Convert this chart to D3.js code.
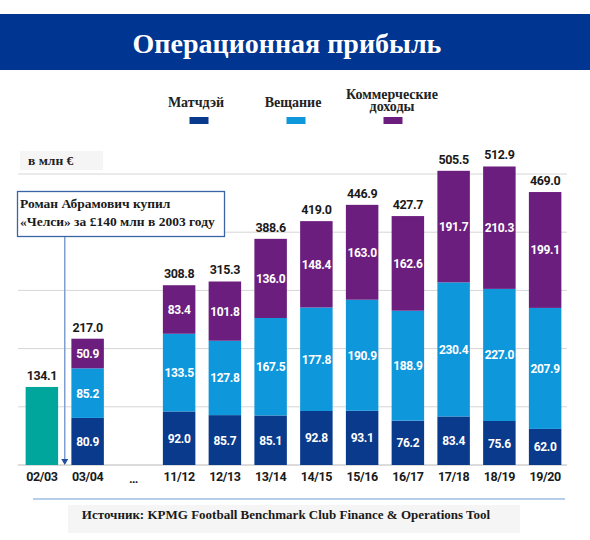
<!DOCTYPE html>
<html><head><meta charset="utf-8">
<script src="https://cdn.jsdelivr.net/npm/d3@7/dist/d3.min.js"></script>
<style>body{margin:0;background:#fff}svg{display:block}</style>
</head><body>
<script>
const categories = ["02/03","03/04","…","11/12","12/13","13/14","14/15","15/16","16/17","17/18","18/19","19/20"];
const stackCats = ["03/04","11/12","12/13","13/14","14/15","15/16","16/17","17/18","18/19","19/20"];
const matchday   = [80.9, 92.0, 85.7, 85.1, 92.8, 93.1, 76.2, 83.4, 75.6, 62.0];
const broadcast  = [85.2, 133.5, 127.8, 167.5, 177.8, 190.9, 188.9, 230.4, 227.0, 207.9];
const commercial = [50.9, 83.4, 101.8, 136.0, 148.4, 163.0, 162.6, 191.7, 210.3, 199.1];
const totals     = [217.0, 308.8, 315.3, 388.6, 419.0, 446.9, 427.7, 505.5, 512.9, 469.0];
const firstCat = "02/03", firstValue = 134.1;
const seriesNames = ["Матчдэй","Вещание","Коммерческие доходы"];
const yTicks = [0,100,200,300,400,500];

const W=590,H=540;
const svg=d3.select("body").append("svg").attr("width",W).attr("height",H);
const serif="'Liberation Serif','DejaVu Serif',serif";
const sans="Roboto,'Liberation Sans',sans-serif";
const colors={m:"#0a3a8c",b:"#0f97dc",c:"#6b1e7d",t:"#00a59b"};

// title band
svg.append("rect").attr("x",0).attr("y",14).attr("width",W).attr("height",56).attr("fill","#003591");
svg.append("text").attr("x",287).attr("y",53).attr("text-anchor","middle").attr("fill","#fff")
  .attr("font-family",serif).attr("font-weight","bold").attr("font-size",28).text("Операционная прибыль");

const x=d3.scaleBand().domain(categories).range([19,568]).paddingInner(0.29).paddingOuter(0.145);
const y=d3.scaleLinear().domain([0,500]).range([465,174]);

// gridlines
svg.append("g").selectAll("line").data(yTicks).join("line")
  .attr("x1",18).attr("x2",567).attr("y1",d=>y(d)).attr("y2",d=>y(d))
  .attr("stroke",d=>d===0?"#b8b8b8":"#d6d6d6").attr("stroke-width",1);

// unit label
svg.append("rect").attr("x",20).attr("y",151).attr("width",83).attr("height",19).attr("fill","#f5f5f5");
svg.append("text").attr("x",28).attr("y",165).attr("font-family",serif).attr("font-weight","bold")
  .attr("font-size",13.5).attr("fill","#222").text("в млн €");

// legend
const legX=[199,296,393], legC=[colors.m,colors.b,colors.c];
seriesNames.forEach((n,i)=>{
  const g=svg.append("g");
  g.append("rect").attr("x",legX[i]-9.5).attr("y",117).attr("width",19).attr("height",7).attr("fill",legC[i]);
  const words=n.split(" ");
  const t=g.append("text").attr("text-anchor","middle").attr("font-family",serif).attr("font-weight","bold")
    .attr("font-size",14).attr("fill","#222");
  if(words.length===1){ t.append("tspan").attr("x",legX[i]-3).attr("y",107).text(n); }
  else { t.append("tspan").attr("x",legX[i]-1).attr("y",99).text(words[0]);
         t.append("tspan").attr("x",legX[i]-1).attr("y",111).text(words[1]); }
});

// first bar
svg.append("rect").attr("x",x(firstCat)).attr("width",x.bandwidth()).attr("y",y(firstValue))
  .attr("height",y(0)-y(firstValue)).attr("fill",colors.t);
svg.append("text").attr("x",x(firstCat)+x.bandwidth()/2).attr("y",y(firstValue)-7).attr("text-anchor","middle")
  .attr("font-family",sans).attr("font-weight","bold").attr("font-size",12.5).attr("letter-spacing","-0.4")
  .attr("fill","#1a1a1a").text(firstValue.toFixed(1));

// stacked bars
const rows=stackCats.map((c,i)=>({cat:c,m:matchday[i],b:broadcast[i],c:commercial[i],total:totals[i]}));
const stack=d3.stack().keys(["m","b","c"])(rows);
const gS=svg.append("g");
stack.forEach(layer=>{
  const key=layer.key;
  const g=gS.append("g");
  g.selectAll("rect").data(layer).join("rect")
    .attr("x",d=>x(d.data.cat)).attr("width",x.bandwidth())
    .attr("y",d=>y(d[1])).attr("height",d=>y(d[0])-y(d[1])).attr("fill",colors[key]);
  g.selectAll("text").data(layer).join("text")
    .attr("x",d=>x(d.data.cat)+x.bandwidth()/2).attr("y",d=>(y(d[0])+y(d[1]))/2+4.5)
    .attr("text-anchor","middle").attr("font-family",sans).attr("font-weight","bold")
    .attr("font-size",12).attr("letter-spacing","-0.4").attr("fill","#fff")
    .text(d=>d.data[key].toFixed(1));
});
gS.append("g").selectAll("text").data(stack[2]).join("text")
  .attr("x",d=>x(d.data.cat)+x.bandwidth()/2).attr("y",d=>y(d[1])-7)
  .attr("text-anchor","middle").attr("font-family",sans).attr("font-weight","bold")
  .attr("font-size",12.5).attr("letter-spacing","-0.4").attr("fill","#1a1a1a")
  .text(d=>d.data.total.toFixed(1));

// x axis labels
svg.append("g").selectAll("text").data(categories).join("text")
  .attr("x",d=>x(d)+x.bandwidth()/2).attr("y",d=>d==="…"?483:481).attr("text-anchor","middle")
  .attr("font-family",sans).attr("font-weight","bold").attr("font-size",12.5).attr("letter-spacing","-0.4")
  .attr("fill","#1a1a1a").text(d=>d);

// annotation arrow
const ax=(x(firstCat)+x.bandwidth()+x("03/04"))/2;
svg.append("line").attr("x1",ax).attr("x2",ax).attr("y1",237).attr("y2",459)
  .attr("stroke","#7f9fd0").attr("stroke-width",1.5);
svg.append("path").attr("d",`M${ax-3.5},459 L${ax+3.5},459 L${ax},465 Z`).attr("fill","#1f4e9c");

// annotation box
svg.append("rect").attr("x",17.5).attr("y",191.5).attr("width",207).attr("height",45)
  .attr("fill","#fff").attr("stroke","#3a64a8").attr("stroke-width",1.3);
const at=svg.append("text").attr("font-family",serif).attr("font-weight","bold").attr("font-size",13.5).attr("fill","#1a1a1a");
at.append("tspan").attr("x",20).attr("y",208).text("Роман Абрамович купил");
at.append("tspan").attr("x",20).attr("y",226).text("«Челси» за £140 млн в 2003 году");

// source
svg.append("line").attr("x1",33).attr("x2",565).attr("y1",499).attr("y2",499).attr("stroke","#6e9dd4").attr("stroke-width",1.2);
svg.append("rect").attr("x",68).attr("y",505).attr("width",452).attr("height",28).attr("fill","#f5f5f5");
svg.append("text").attr("x",286).attr("y",519).attr("text-anchor","middle").attr("font-family",serif)
  .attr("font-weight","bold").attr("font-size",13).attr("fill","#1a1a1a")
  .text("Источник: KPMG Football Benchmark Club Finance & Operations Tool");
</script>
</body></html>
